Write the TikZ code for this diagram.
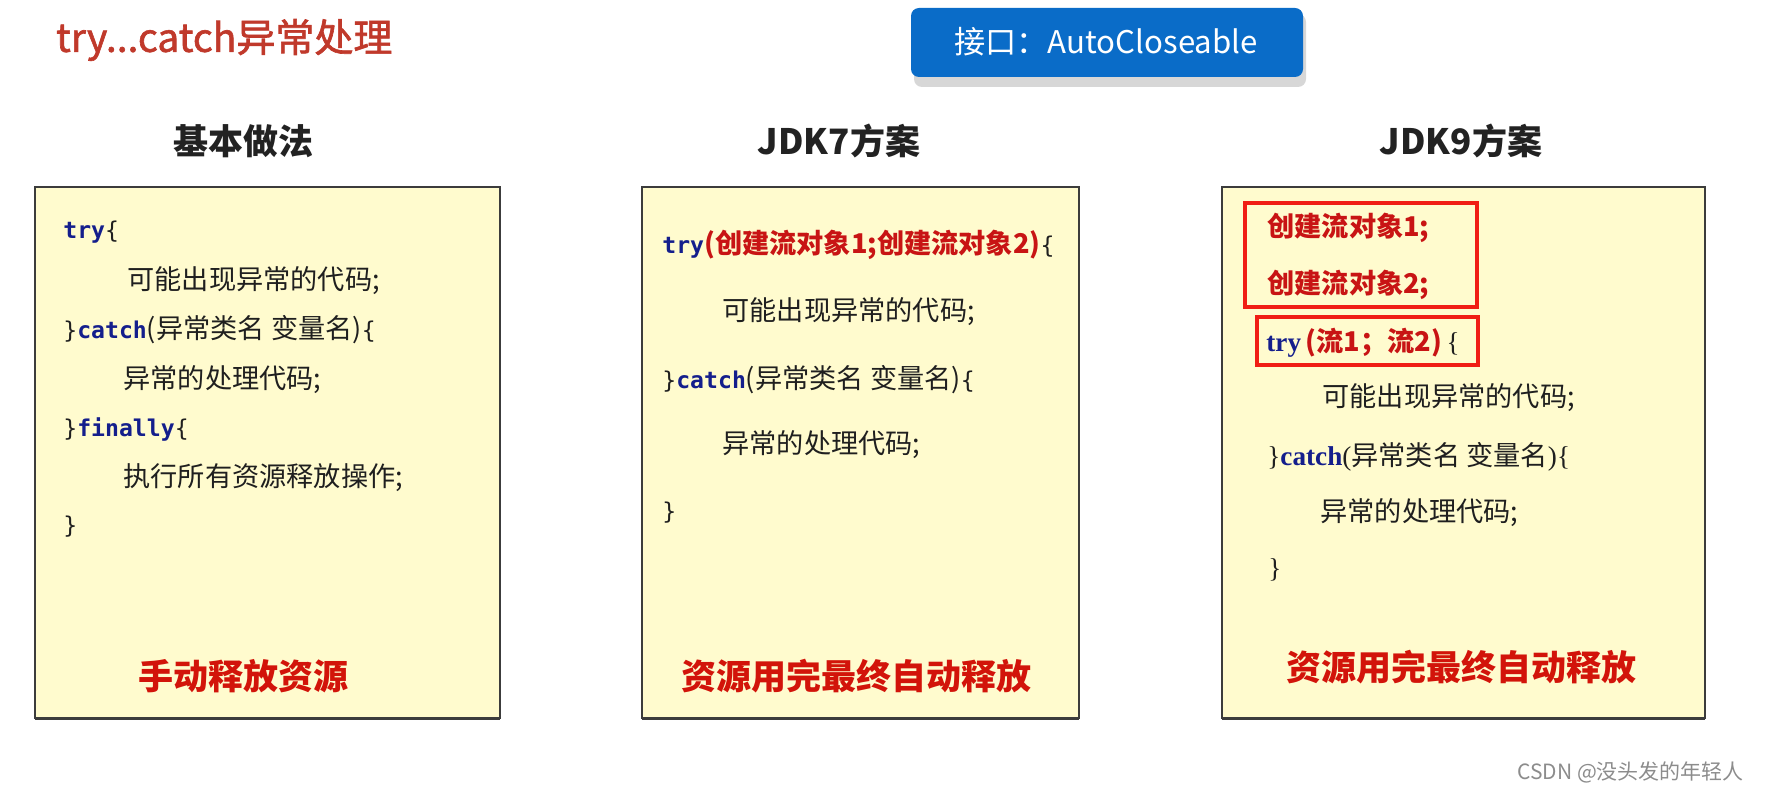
\documentclass[tikz,border=0pt]{standalone}
\usepackage{fontspec}
\setmainfont{Noto Sans CJK SC}
\newfontfamily\titlefont[FakeBold=1.6]{Noto Sans CJK SC}
\newfontfamily\codefont[Scale=0.85]{DejaVu Sans Mono}
\newfontfamily\serifcode{Liberation Serif}
\usepackage{xcolor}
\usetikzlibrary{positioning}
\definecolor{titlered}{RGB}{192,57,43}
\definecolor{btnblue}{RGB}{10,108,200}
\definecolor{shadowgray}{RGB}{215,215,215}
\definecolor{headgray}{RGB}{34,34,34}
\definecolor{paneyellow}{RGB}{255,251,206}
\definecolor{panelgray}{RGB}{60,60,60}
\definecolor{kwblue}{RGB}{20,30,140}
\definecolor{codered}{RGB}{200,20,20}
\definecolor{sumred}{RGB}{210,20,10}
\definecolor{framered}{RGB}{240,30,20}
\definecolor{wmgray}{RGB}{140,140,140}
\newcommand{\kwd}[1]{{\codefont\bfseries\color{kwblue}#1}}
\newcommand{\kws}[1]{{\serifcode\bfseries\color{kwblue}#1}}
\newcommand{\redpart}[1]{{\bfseries\color{codered}#1}}

\begin{document}
\begin{tikzpicture}[x=0.5pt,y=-0.5pt,
  panel/.style={draw=panelgray, line width=0.8pt, fill=paneyellow},
  codeline/.style={anchor=west, inner sep=0pt, text=black!88, font=\fontsize{13.6}{16}\selectfont},
  heading/.style={font=\fontsize{17.5}{20}\selectfont\bfseries, text=headgray},
  summary/.style={font=\fontsize{17.5}{20}\selectfont\bfseries, text=sumred},
  redframe/.style={draw=framered, line width=2pt}]

\useasboundingbox (0,0) rectangle (1766,796);

% title and interface tag
\node[anchor=west, text=titlered, font=\titlefont\fontsize{19.5}{23}\selectfont] (title) at (49,40) {try...catch异常处理};
\fill[shadowgray, rounded corners=4pt] (914,14) rectangle (1306,87);
\fill[btnblue, rounded corners=4pt] (911,8) rectangle (1303,77);
\node[text=white, font=\fontsize{15.6}{18}\selectfont] (iface) at (1106,42) {接口：AutoCloseable};

% three panels
\foreach \l/\r/\hx/\sx/\sy/\name/\head/\sum in {
  35/500/243/243/676/basic/基本做法/手动释放资源,
  642/1079/839/856/676/jdkseven/JDK7方案/资源用完最终自动释放,
  1222/1705/1461/1461/667/jdknine/JDK9方案/资源用完最终自动释放} {
  \draw[panel] (\l,187) rectangle (\r,718);
  \draw[panelgray, line width=1.5pt] (\l,718) -- (\r,718);
  \node[heading] (\name-head) at (\hx,141) {\head};
  \node[summary] (\name-sum) at (\sx,\sy) {\sum};
}

% basic try/catch/finally
\foreach \x/\y/\txt [count=\i] in {
  63/232/{\kwd{try}{\codefont\{}},
  127/281/{可能出现异常的代码;},
  63/330/{{\codefont\}}\kwd{catch}(异常类名 变量名){\codefont\{}},
  123/380/{异常的处理代码;},
  63/429/{{\codefont\}}\kwd{finally}{\codefont\{}},
  123/478/{执行所有资源释放操作;},
  63/527/{{\codefont\}}}} {
  \node[codeline] (basic-\i) at (\x,\y) {\txt};
}

% JDK7 try-with-resources
\foreach \x/\y/\txt [count=\i] in {
  662/245/{\kwd{try}\redpart{(创建流对象1;创建流对象2)}{\codefont\{}},
  722/312/{可能出现异常的代码;},
  662/380/{{\codefont\}}\kwd{catch}(异常类名 变量名){\codefont\{}},
  722/445/{异常的处理代码;},
  662/513/{{\codefont\}}}} {
  \node[codeline] (jdkseven-\i) at (\x,\y) {\txt};
}

% JDK9 variant
\foreach \x/\y/\txt [count=\i] in {
  1267/228/{\redpart{创建流对象1;}},
  1267/285/{\redpart{创建流对象2;}},
  1266/343/{\kws{try}\,\redpart{(流1；流2)}\,{\serifcode\{}},
  1322/398/{可能出现异常的代码;},
  1267/457/{{\serifcode\}}\kws{catch}{\serifcode(}异常类名 变量名{\serifcode)\{}},
  1320/513/{异常的处理代码;},
  1268/570/{{\serifcode\}}}} {
  \node[codeline] (jdknine-\i) at (\x,\y) {\txt};
}
\draw[redframe] (1245,203) rectangle (1477,307);
\draw[redframe] (1257,317) rectangle (1478,365);

\node[anchor=east, text=wmgray, font=\fontsize{10.5}{12}\selectfont] (mark) at (1751,772) {CSDN @没头发的年轻人};
\end{tikzpicture}
\end{document}
